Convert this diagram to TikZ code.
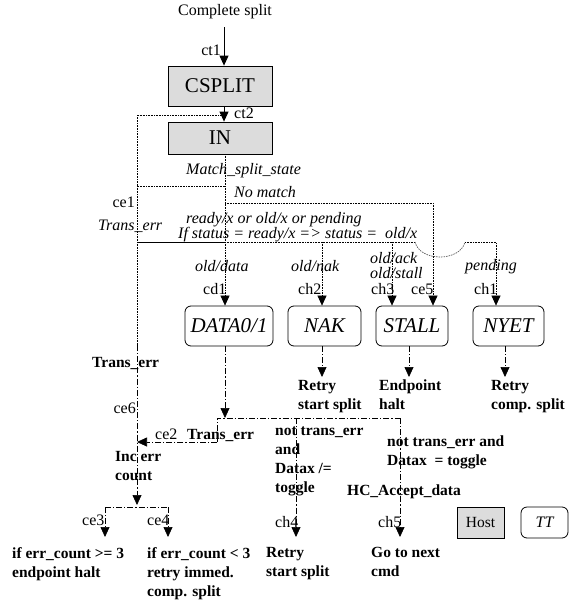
\documentclass[tikz,border=0pt]{standalone}
\usepackage{fontspec}
\setmainfont{Liberation Serif}
\usetikzlibrary{arrows.meta}
\definecolor{boxgray}{RGB}{220,220,220}
\begin{document}
\begin{tikzpicture}[x=1pt,y=-1pt,
  lbl/.style={font=\fontsize{16}{19}\selectfont, inner sep=0pt},
  itl/.style={font=\fontsize{16}{19}\selectfont\itshape, inner sep=0pt},
  bld/.style={font=\fontsize{15.5}{19}\selectfont\bfseries, inner sep=0pt, align=left, anchor=north west},
  bld1/.style={font=\fontsize{15.5}{19}\selectfont\bfseries, inner sep=0pt, anchor=base west},
  graybox/.style={draw, fill=boxgray, line width=0.8pt, inner sep=0pt},
  roundbox/.style={draw, rounded corners=6pt, line width=0.8pt, inner sep=0pt,
     minimum height=40pt, font=\fontsize{21}{24}\selectfont\itshape},
  solidl/.style={line width=0.8pt},
  dotl/.style={densely dotted, line width=0.6pt},
  dd/.style={dash pattern=on 6pt off 2pt on 1.2pt off 2pt, line width=0.7pt},
  tip/.style={-{Triangle[length=10pt,width=9pt]}}
]
\useasboundingbox (0,0) rectangle (587,605);

% ---------- top boxes ----------
\node[lbl, anchor=base] (title) at (225,16) {Complete split};
\node[graybox, minimum width=104pt, minimum height=40pt,
      font=\fontsize{21}{24}\selectfont] (csplit) at (220,86) {CSPLIT};
\node[graybox, minimum width=104pt, minimum height=32pt,
      font=\fontsize{21}{24}\selectfont] (in) at (220,138) {IN};

% ---------- middle boxes ----------
\node[roundbox, minimum width=88pt] (data) at (229,326) {DATA0/1};
\node[roundbox, minimum width=73pt] (nak) at (324.5,326) {NAK};
\node[roundbox, minimum width=72pt] (stall) at (412,326) {STALL};
\node[roundbox, minimum width=71pt] (nyet) at (508.5,326) {NYET};

% ---------- legend ----------
\node[graybox, minimum width=47pt, minimum height=31pt,
      font=\fontsize{15.5}{18}\selectfont] (host) at (480.5,522.5) {Host};
\node[roundbox, minimum width=47pt, minimum height=31pt,
      font=\fontsize{16}{18}\selectfont\itshape] (tt) at (544.5,522.5) {TT};

% ---------- coordinates ----------
\coordinate (a1) at (224,27);
\coordinate (m1) at (225,186);
\coordinate (m0) at (137,186);
\coordinate (m2) at (137,115);
\coordinate (m3) at (224,115);
\coordinate (l1) at (137,345);
\coordinate (l2) at (137,505);
\coordinate (te0) at (137,242);
\coordinate (te1) at (225,242);
\coordinate (d0) at (225,154);
\coordinate (n0) at (225,203);
\coordinate (n1) at (433,203);
\coordinate (h0) at (415,242);
\coordinate (h1) at (465,242);
\coordinate (p1) at (496,242);
\coordinate (c2) at (322,242);
\coordinate (c3) at (392,242);
\coordinate (b0) at (225,346);
\coordinate (b1) at (225,418);
\coordinate (bl) at (217,418);
\coordinate (bl2) at (217,442);
\coordinate (br) at (400,418);
\coordinate (br2) at (400,537);
\coordinate (b4) at (296,418);
\coordinate (b42) at (296,537);
\coordinate (ce2t) at (137,442);
\coordinate (e0) at (105,537);
\coordinate (e1) at (105,507);
\coordinate (e2) at (168,507);
\coordinate (e3) at (168,537);
\coordinate (k0) at (322,346);
\coordinate (k1) at (322,377);
\coordinate (s0) at (409,346);
\coordinate (s1) at (409,377);
\coordinate (y0) at (505,346);
\coordinate (y1) at (505,377);

% ---------- solid arrows ----------
\draw[solidl,tip] (a1) -- (a1 |- csplit.north);
\draw[solidl,tip] (a1 |- csplit.south) -- (a1 |- in.north);

% ---------- dotted connectors ----------
\draw[dotl] (m1) -- (m0) -- (m2) -- (m3);
\draw[dotl] (m0) -- (l1);
\draw[solidl] (te0) -- (te1);
\draw[dotl,tip] (d0) -- (d0 |- data.north);
\draw[dotl,tip] (n0) -- (n1) -- (n1 |- stall.north);
\draw[dotl] (te1) -- (h0);
\draw[black!65, dash pattern=on 1.5pt off 1pt, line width=0.7pt] (h0) .. controls (420,262) and (460,262) .. (h1);
\draw[dotl,tip] (h1) -- (p1) -- (p1 |- nyet.north);
\draw[dotl,tip] (c2) -- (c2 |- nak.north);
\draw[dotl,tip] (c3) -- (c3 |- stall.north);

% ---------- dash-dot connectors ----------
\draw[dd,tip] (l1) -- (l2);
\draw[dd,tip] (b0) -- (b1);
\draw[dd] (bl2) -- (bl) -- (br);
\draw[dd,tip] (br) -- (br2);
\draw[dd,tip] (b4) -- (b42);
\draw[dd,tip] (bl2) -- (ce2t);
\draw[dd,tip] (k0) -- (k1);
\draw[dd,tip] (s0) -- (s1);
\draw[dd,tip] (y0) -- (y1);
\draw[dd] (e1) -- (e2);
\draw[dd,tip] (e1) -- (e0);
\draw[dd,tip] (e2) -- (e3);

% ---------- upper labels ----------
\node[lbl, anchor=base east] (lct1) at (221,55) {ct1};
\node[lbl, anchor=base west] (lct2) at (234,118) {ct2};
\node[itl, anchor=base west] (lmatch) at (186,174) {Match\_split\_state};
\node[itl, anchor=base west] (lnomatch) at (234,197) {No match};
\node[lbl, anchor=base east] (lce1) at (135,207) {ce1};
\node[itl, anchor=base west] (ltrans) at (98,230) {Trans\_err};
\node[itl, anchor=base west] (lready) at (186,223) {ready/x or old/x or pending};
\node[itl, anchor=base west] (lif) at (178,238) {If status = ready/x => status =~ old/x};
\node[itl, anchor=base west] (lolddata) at (195,271) {old/data};
\node[itl, anchor=base west] (loldnak) at (291,271) {old/nak};
\node[itl, anchor=base west] (loldack) at (370,263) {old/ack};
\node[itl, anchor=base west] (loldstall) at (370,278) {old/stall};
\node[itl, anchor=base west] (lpending) at (465,270) {pending};
\node[lbl, anchor=base west] (lcd1) at (203,294) {cd1};
\node[lbl, anchor=base west] (lch2) at (298,294) {ch2};
\node[lbl, anchor=base west] (lch3) at (371,294) {ch3};
\node[lbl, anchor=base west] (lce5) at (411,294) {ce5};
\node[lbl, anchor=base west] (lch1) at (474,294) {ch1};

% ---------- lower labels ----------
\node[bld1] (ltrans2) at (92,367) {Trans\_err};
\node[lbl, anchor=base east] (lce6) at (136,413) {ce6};
\node[bld] (lretry1) at (298,380) {Retry\\start split};
\node[bld] (lhalt) at (379,380) {Endpoint\\halt};
\node[bld] (lretry2) at (491,380) {Retry\\comp. split};
\node[lbl, anchor=base west] (lce2) at (155,439) {ce2};
\node[bld1] (ltrans3) at (187,439) {Trans\_err};
\node[bld] (lnot1) at (275,427) {not trans\_err\\and\\Datax /=\\toggle};
\node[bld] (lnot2) at (387,436) {not trans\_err and\\Datax~~= toggle};
\node[bld1] (lhc) at (347,495) {HC\_Accept\_data};
\node[lbl, anchor=base west] (lch4) at (275,527) {ch4};
\node[lbl, anchor=base west] (lch5) at (378,527) {ch5};
\node[bld] (linc) at (115,451) {Inc err\\count};
\node[lbl, anchor=base west] (lce3) at (82,525) {ce3};
\node[lbl, anchor=base west] (lce4) at (147,525) {ce4};
\node[bld] (lif3) at (12,547) {if err\_count >= 3\\endpoint halt};
\node[bld] (lif4) at (147,547) {if err\_count < 3\\retry immed.\\comp. split};
\node[bld] (lretry3) at (266,547) {Retry\\start split};
\node[bld] (lgo) at (371,547) {Go to next\\cmd};
\end{tikzpicture}
\end{document}
